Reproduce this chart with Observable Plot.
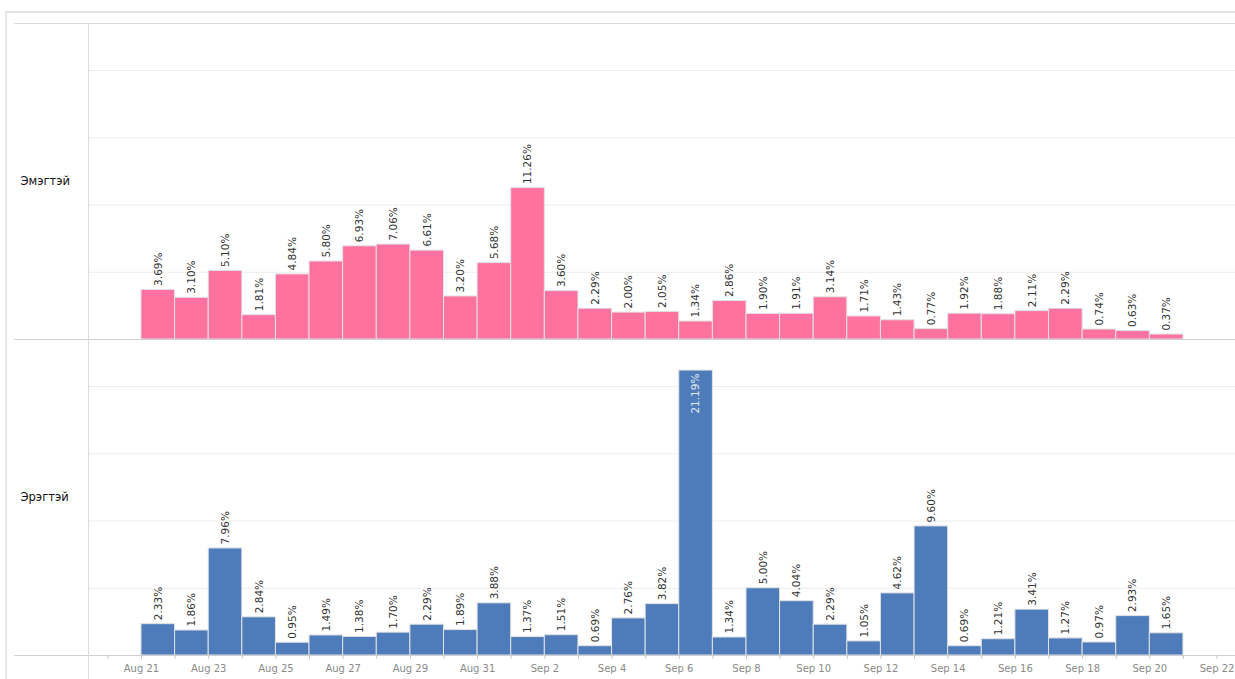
<!DOCTYPE html>
<html><head><meta charset="utf-8">
<script src="https://cdn.jsdelivr.net/npm/d3@7"></script>
<script src="https://cdn.jsdelivr.net/npm/@observablehq/plot@0.6"></script>
<style>
body{margin:0;background:#fff;font-family:"DejaVu Sans",sans-serif;}
#wrap{position:relative;width:1235px;height:679px;overflow:hidden;}
#frame{position:absolute;left:5px;top:11px;right:-4px;bottom:-4px;border-top:2px solid #e2e2e2;border-left:2px solid #e8e8e8;}
#chart{position:absolute;left:0;top:0;}
</style></head><body>
<div id="wrap"><div id="frame"></div><div id="chart"></div></div>
<script>
const genders = ["Эмэгтэй", "Эрэгтэй"];
const dates = [
  "2023-08-21","2023-08-22","2023-08-23","2023-08-24","2023-08-25","2023-08-26","2023-08-27",
  "2023-08-28","2023-08-29","2023-08-30","2023-08-31","2023-09-01","2023-09-02","2023-09-03",
  "2023-09-04","2023-09-05","2023-09-06","2023-09-07","2023-09-08","2023-09-09","2023-09-10",
  "2023-09-11","2023-09-12","2023-09-13","2023-09-14","2023-09-15","2023-09-16","2023-09-17",
  "2023-09-18","2023-09-19","2023-09-20"
];
const femaleValues = [3.69, 3.10, 5.10, 1.81, 4.84, 5.80, 6.93, 7.06, 6.61, 3.20, 5.68,
  11.26, 3.60, 2.29, 2.00, 2.05, 1.34, 2.86, 1.90, 1.91, 3.14, 1.71, 1.43, 0.77, 1.92, 1.88, 2.11, 2.29, 0.74, 0.63, 0.37];
const maleValues = [2.33, 1.86, 7.96, 2.84, 0.95, 1.49, 1.38, 1.70, 2.29, 1.89, 3.88,
  1.37, 1.51, 0.69, 2.76, 3.82, 21.19, 1.34, 5.00, 4.04, 2.29, 1.05, 4.62, 9.60, 0.69, 1.21, 3.41, 1.27, 0.97, 2.93, 1.65];
const tickDates = [
  "2023-08-20","2023-08-21","2023-08-22","2023-08-23","2023-08-24","2023-08-25","2023-08-26","2023-08-27",
  "2023-08-28","2023-08-29","2023-08-30","2023-08-31","2023-09-01","2023-09-02","2023-09-03",
  "2023-09-04","2023-09-05","2023-09-06","2023-09-07","2023-09-08","2023-09-09","2023-09-10",
  "2023-09-11","2023-09-12","2023-09-13","2023-09-14","2023-09-15","2023-09-16","2023-09-17",
  "2023-09-18","2023-09-19","2023-09-20","2023-09-21","2023-09-22"
];
const tickLabelDates = ["2023-08-21","2023-08-23","2023-08-25","2023-08-27","2023-08-29","2023-08-31",
  "2023-09-02","2023-09-04","2023-09-06","2023-09-08","2023-09-10","2023-09-12","2023-09-14",
  "2023-09-16","2023-09-18","2023-09-20","2023-09-22"];
const yGridTicks = [5, 10, 15, 20];
const colors = ["#fd729e", "#4e7cbb"];

const parse = d3.utcParse("%Y-%m-%d");
const rows = [];
dates.forEach((s, i) => {
  const d = parse(s);
  rows.push({gender: genders[0], date: d, end: d3.utcDay.offset(d, 1), value: femaleValues[i]});
  rows.push({gender: genders[1], date: d, end: d3.utcDay.offset(d, 1), value: maleValues[i]});
});
const mid = d => new Date((+d.date + +d.end) / 2);
const xDomain = [new Date(Date.UTC(2023, 7, 19, 10, 10)), new Date(Date.UTC(2023, 8, 22, 13, 10))];
const yMax = 23.5;
const fmt = d => d.value.toFixed(2) + "%";
const inside = d => d.value > 18;

const chart = Plot.plot({
  width: 1235,
  height: 679,
  marginLeft: 88,
  marginRight: 0,
  marginTop: 22,
  marginBottom: 24,
  style: {fontFamily: "DejaVu Sans, sans-serif", background: "transparent"},
  x: {type: "utc", domain: xDomain, axis: null},
  y: {domain: [0, yMax], axis: null},
  fy: {domain: genders, padding: 0, axis: null},
  color: {domain: genders, range: colors},
  marks: [
    Plot.gridY(yGridTicks, {stroke: "#ededed", strokeOpacity: 1}),
    Plot.rectY(rows, {x1: "date", x2: "end", y: "value", fy: "gender", fill: "gender", stroke: "#e2e2e2", strokeWidth: 1}),
    Plot.text(rows.filter(d => !inside(d)), {x: mid, y: "value", fy: "gender", text: fmt, rotate: -90, textAnchor: "start", dy: -4, fill: "#333", fontSize: 10.5}),
    Plot.text(rows.filter(inside), {x: mid, y: "value", fy: "gender", text: fmt, rotate: -90, textAnchor: "end", dy: 3, fill: "#e4eaf4", fontSize: 10.5}),
    Plot.ruleY([{fy: genders[0], v: yMax}], {y: "v", fy: "fy", stroke: "#dcdcdc", insetLeft: -74}),
    Plot.ruleY(genders.map(g => ({fy: g, v: 0})), {y: "v", fy: "fy", stroke: "#cfcfcf", insetLeft: -74}),
    Plot.ruleX([{fy: genders[0]}], {x: () => xDomain[0], fy: "fy", stroke: "#dcdcdc"}),
    Plot.ruleX([{fy: genders[1]}], {x: () => xDomain[0], fy: "fy", stroke: "#dcdcdc", insetBottom: -24}),
    Plot.text(genders, {fy: d => d, text: d => d, frameAnchor: "left", textAnchor: "start", dx: -68, fontSize: 11.5, fill: "#111"}),
    Plot.axisX(tickDates.map(parse), {tickSize: 4, tickFormat: () => "", stroke: "#c8c8c8"}),
    Plot.axisX(tickLabelDates.map(parse), {tickSize: 0, tickPadding: 9, tickFormat: d3.utcFormat("%b %-d"), fill: "#8a8a8a", fontSize: 10})
  ]
});
document.getElementById("chart").appendChild(chart);
</script>
</body></html>
